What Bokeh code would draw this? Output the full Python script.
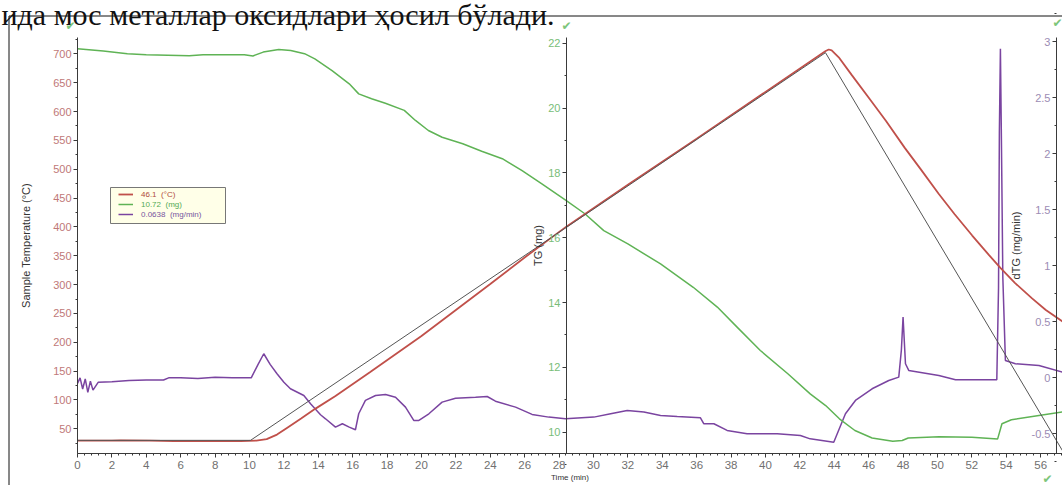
from bokeh.plotting import figure
from bokeh.models import (Range1d, LinearAxis, FixedTicker, Legend, LegendItem,
                          Label, BoxAnnotation, ColumnDataSource)
from bokeh.embed import file_html
from bokeh.resources import INLINE

# ---------------- data ----------------
# sample temperature (deg C), left axis
t_temp = [0, 2.0, 2.5, 4.2, 5.6, 9.5, 10.4, 11.0, 11.6, 12.2, 13.0, 13.84, 15, 17, 20, 22, 24, 26,
          28.4, 32, 36, 40, 43.2, 43.5, 43.68, 43.85, 44.26, 45.0, 46.2, 47.0, 48.1, 49.0, 50.08,
          51.0, 52.02, 53.0, 53.66, 54.5, 55.5, 56.3, 57.27]
temp = [29.5, 29.5, 30.0, 29.5, 28.5, 28.5, 29.5, 32, 40, 52, 68, 85, 107, 148, 211, 256, 301, 347,
        400, 473, 553, 634, 699, 705, 707.5, 706, 694, 664, 616, 584, 537, 501, 457,
        422, 385, 351, 329, 303, 276, 256, 236]

# programmed temperature (deg C), left axis
t_prog = [0, 10.06, 43.49, 57.27]
prog = [30, 30, 702, 12]

# TG (mg)
t_tg = [0, 1.5, 2.9, 4.0, 6.5, 7.3, 9.7, 10.2, 10.8, 11.7, 12.4, 13.2, 13.8, 14.8, 15.8, 16.35, 17.1,
        17.9, 19.0, 19.65, 20.4, 21.2, 22.4, 23.5, 24.7, 25.85, 27.0, 28.4, 29.5, 30.6, 32.0, 33.9,
        35.8, 37.2, 38.35, 39.7, 41.3, 42.6, 43.5, 44.3, 45.2, 46.2, 47.4, 47.95, 48.3, 50.1, 52.0,
        53.5, 53.75, 54.3, 55.9, 57.27]
tg = [21.83, 21.76, 21.68, 21.65, 21.62, 21.65, 21.65, 21.61, 21.73, 21.81, 21.78, 21.68, 21.52,
      21.16, 20.75, 20.44, 20.29, 20.15, 19.93, 19.62, 19.31, 19.10, 18.90, 18.67, 18.44, 18.07,
      17.66, 17.15, 16.74, 16.22, 15.81, 15.19, 14.47, 13.86, 13.24, 12.52, 11.80, 11.18, 10.82,
      10.41, 10.05, 9.82, 9.72, 9.74, 9.82, 9.86, 9.84, 9.79, 10.26, 10.38, 10.51, 10.62]

# dTG (mg/min)
t_dtg = [0, 0.15, 0.3, 0.45, 0.6, 0.75, 0.9, 1.2, 2.0, 3.0, 4.0, 5.0, 5.3, 6.0, 7.0, 8.0, 9.0, 10.1,
         10.5, 10.83, 11.2, 11.6, 12.0, 12.38, 13.16, 13.55, 14.13, 14.42, 15.0, 15.4, 15.8, 16.16,
         16.35, 16.74, 17.33, 17.91, 18.49, 19.07, 19.55, 19.85, 20.43, 21.2, 21.98, 23.14, 23.82,
         24.3, 25.47, 26.43, 27.4, 28.37, 30.02, 31.0, 31.96, 32.93, 33.9, 34.87, 36.22, 36.41,
         37.0, 37.77, 38.93, 40.68, 42.03, 42.6, 43.97, 44.65, 45.23, 46.2, 47.17, 47.75, 47.9,
         48.0, 48.14, 48.33, 50.08, 51.05, 53.45, 53.55, 53.6, 53.66, 53.72, 53.8, 53.95, 54.53,
         55.9, 57.27]
dtg = [-0.05, 0.0, -0.10, -0.01, -0.13, -0.03, -0.11, -0.04, -0.035, -0.025, -0.02, -0.02, 0.0,
       0.0, -0.005, 0.005, 0.0, 0.0, 0.12, 0.215, 0.12, 0.036, -0.04, -0.098, -0.158, -0.232,
       -0.33, -0.366, -0.441, -0.41, -0.44, -0.464, -0.321, -0.202, -0.158, -0.149, -0.173,
       -0.262, -0.381, -0.381, -0.321, -0.217, -0.182, -0.173, -0.167, -0.209, -0.262, -0.327,
       -0.351, -0.366, -0.351, -0.321, -0.292, -0.306, -0.336, -0.345, -0.357, -0.41, -0.41,
       -0.47, -0.5, -0.5, -0.515, -0.545, -0.575, -0.321, -0.202, -0.098, -0.024, 0.006, 0.245,
       0.542, 0.126, 0.066, 0.021, -0.017, -0.017, 0.8, 2.2, 2.94, 2.1, 0.9, 0.155, 0.126, 0.11,
       0.05]

# tick labels
time_ticks = list(range(0, 57, 2))
temp_ticks = list(range(50, 701, 50))
tg_ticks = [10, 12, 14, 16, 18, 20, 22]
dtg_ticks = [-0.5, 0, 0.5, 1, 1.5, 2, 2.5, 3]
dtg_labels = ["-0.5", "0", "0.5", "1", "1.5", "2", "2.5", "3"]

legend_texts = ["46.1  (\u00b0C)", "10.72  (mg)", "0.0638  (mg/min)"]
caption = "ида мос металлар оксидлари ҳосил бўлади."

# ---------------- geometry (pixels of the 1062x485 page) ----------------
W, H = 1062, 485
FL, FR, FT, FB = 77, 1062, 37, 453          # plotting area of the original chart
X0, X1 = 0.0, 57.27                           # time at FL / FR
T0, T1 = 7.2, 728.3                           # temperature at FB / FT
G0, G1 = 9.34, 22.18                          # TG at FB / FT
D0, D1 = -0.676, 3.04                         # dTG at FB / FT
TG_AXIS_AT = 28.43
DTG_AXIS_AT = 56.92


def ext(a, b, lo_px, hi_px, pmin, pmax):
    """extend a data interval [a,b] mapped on pixels [lo_px, hi_px] to [pmin, pmax]"""
    k = (b - a) / (hi_px - lo_px)
    return a - (lo_px - pmin) * k, b + (pmax - hi_px) * k


xr = ext(X0, X1, FL, FR, 0, W)
yr = ext(T0, T1, H - FB, H - FT, 0, H)
gr = ext(G0, G1, H - FB, H - FT, 0, H)
dr = ext(D0, D1, H - FB, H - FT, 0, H)

FONT = "Liberation Sans"
AX = "#3a3a3a"

p = figure(width=W, height=H, output_backend="svg", toolbar_location=None,
           x_range=Range1d(*xr), y_range=Range1d(*yr),
           min_border=0, min_border_left=0, min_border_right=0,
           min_border_top=0, min_border_bottom=0)
p.extra_y_ranges = {"tg": Range1d(*gr), "dtg": Range1d(*dr)}
p.outline_line_color = None
p.xgrid.visible = False
p.ygrid.visible = False
p.background_fill_color = "white"
p.border_fill_color = "white"


def style_axis(ax, label_color, size="11px"):
    ax.axis_line_color = AX
    ax.major_tick_line_color = AX
    ax.minor_tick_line_color = AX
    ax.major_tick_out = 4
    ax.major_tick_in = 0
    ax.minor_tick_out = 2
    ax.minor_tick_in = 0
    ax.major_label_text_font = FONT
    ax.major_label_text_font_size = size
    ax.major_label_text_color = label_color
    ax.axis_label_text_font = FONT
    ax.axis_label_text_font_style = "normal"
    ax.axis_label_text_color = "#333333"


xa = p.xaxis[0]
xa.fixed_location = T0
xa.bounds = (X0, X1)
xa.ticker = FixedTicker(ticks=time_ticks, minor_ticks=[i * 0.4 for i in range(0, 144)])
style_axis(xa, "#707070", "11.5px")
xa.axis_label = "Time (min)"
xa.axis_label_text_font_size = "8px"
xa.axis_label_standoff = 1
xa.major_label_standoff = 3

ya = p.yaxis[0]
ya.fixed_location = X0
ya.bounds = (T0, T1)
ya.ticker = FixedTicker(ticks=temp_ticks, minor_ticks=list(range(25, 730, 25)))
style_axis(ya, "#c07878")
ya.axis_label = "Sample Temperature (\u00b0C)"
ya.axis_label_text_font_size = "11px"
ya.axis_label_standoff = 18
ya.major_label_standoff = 2

tg_axis = LinearAxis(y_range_name="tg", fixed_location=TG_AXIS_AT, bounds=(G0, G1),
                     ticker=FixedTicker(ticks=tg_ticks, minor_ticks=list(range(9, 23))),
                     axis_label="TG (mg)")
style_axis(tg_axis, "#78bd78")
tg_axis.axis_label_text_font_size = "11px"
tg_axis.axis_label_standoff = 1
tg_axis.major_label_standoff = 2
p.add_layout(tg_axis, "left")

dtg_axis = LinearAxis(y_range_name="dtg", fixed_location=DTG_AXIS_AT, bounds=(D0, D1),
                      ticker=FixedTicker(ticks=dtg_ticks, minor_ticks=[-0.75 + 0.25 * i for i in range(17)]),
                      axis_label="dTG (mg/min)",
                      major_label_overrides={v: s for v, s in zip(dtg_ticks, dtg_labels)})
style_axis(dtg_axis, "#9c8cb4")
dtg_axis.axis_label_text_font_size = "11px"
dtg_axis.axis_label_standoff = 7
dtg_axis.major_label_standoff = 2
p.add_layout(dtg_axis, "left")

# ---------------- lines ----------------
src_temp = ColumnDataSource(dict(t=t_temp, v=temp))
src_prog = ColumnDataSource(dict(t=t_prog, v=prog))
src_tg = ColumnDataSource(dict(t=t_tg, v=tg))
src_dtg = ColumnDataSource(dict(t=t_dtg, v=dtg))

RED = "#c0504a"
GREEN = "#5fb355"
PURPLE = "#7a44a0"
GREY = "#555555"

r_dtg = p.line("t", "v", source=src_dtg, y_range_name="dtg", line_color=PURPLE, line_width=1.5)
r_tg = p.line("t", "v", source=src_tg, y_range_name="tg", line_color=GREEN, line_width=1.5)
r_temp = p.line("t", "v", source=src_temp, line_color=RED, line_width=1.8)
r_prog = p.line("t", "v", source=src_prog, line_color=GREY, line_width=1)

# ---------------- legend box ----------------
p.add_layout(BoxAnnotation(left=110, right=225, bottom=H - 223, top=H - 187,
                           left_units="screen", right_units="screen",
                           bottom_units="screen", top_units="screen",
                           fill_color="#ffffe8", fill_alpha=1, line_color="#777777",
                           line_alpha=1, line_width=1))
leg_colors = ["#b04a3a", "#55aa55", "#7755a0"]
leg_y = [H - 199, H - 209, H - 219]
for txt, r, c, yy in zip(legend_texts, [r_temp, r_tg, r_dtg], leg_colors, leg_y):
    lg = Legend(items=[LegendItem(label=txt, renderers=[r])], location=(118, yy),
                padding=0, margin=0, spacing=0, glyph_width=15, glyph_height=10,
                label_height=10, label_standoff=8, label_text_font=FONT,
                label_text_font_size="8px", label_text_color=c,
                border_line_color=None, background_fill_alpha=0)
    p.add_layout(lg)

# ---------------- outer frame, caption, check marks ----------------
p.add_layout(BoxAnnotation(left=8.5, right=W + 50, bottom=-50, top=H - 15.5,
                           left_units="screen", right_units="screen",
                           bottom_units="screen", top_units="screen",
                           fill_alpha=0, line_color="#111111", line_alpha=1, line_width=1))
p.add_layout(Label(x=1, y=H - 14, x_units="screen", y_units="screen", text=caption,
                   text_font="Liberation Serif", text_font_size="30px", text_color="#111111",
                   text_baseline="alphabetic"))
for cx, cy in [(70, H - 25), (566, H - 25), (1057, H - 22), (1047, 7)]:
    p.add_layout(Label(x=cx, y=cy, x_units="screen", y_units="screen", text="\u2714",
                       text_font="DejaVu Sans", text_font_size="12px", text_color="#7dc67a",
                       text_align="center", text_baseline="middle"))

open("out.html", "w").write(file_html(p, INLINE))
